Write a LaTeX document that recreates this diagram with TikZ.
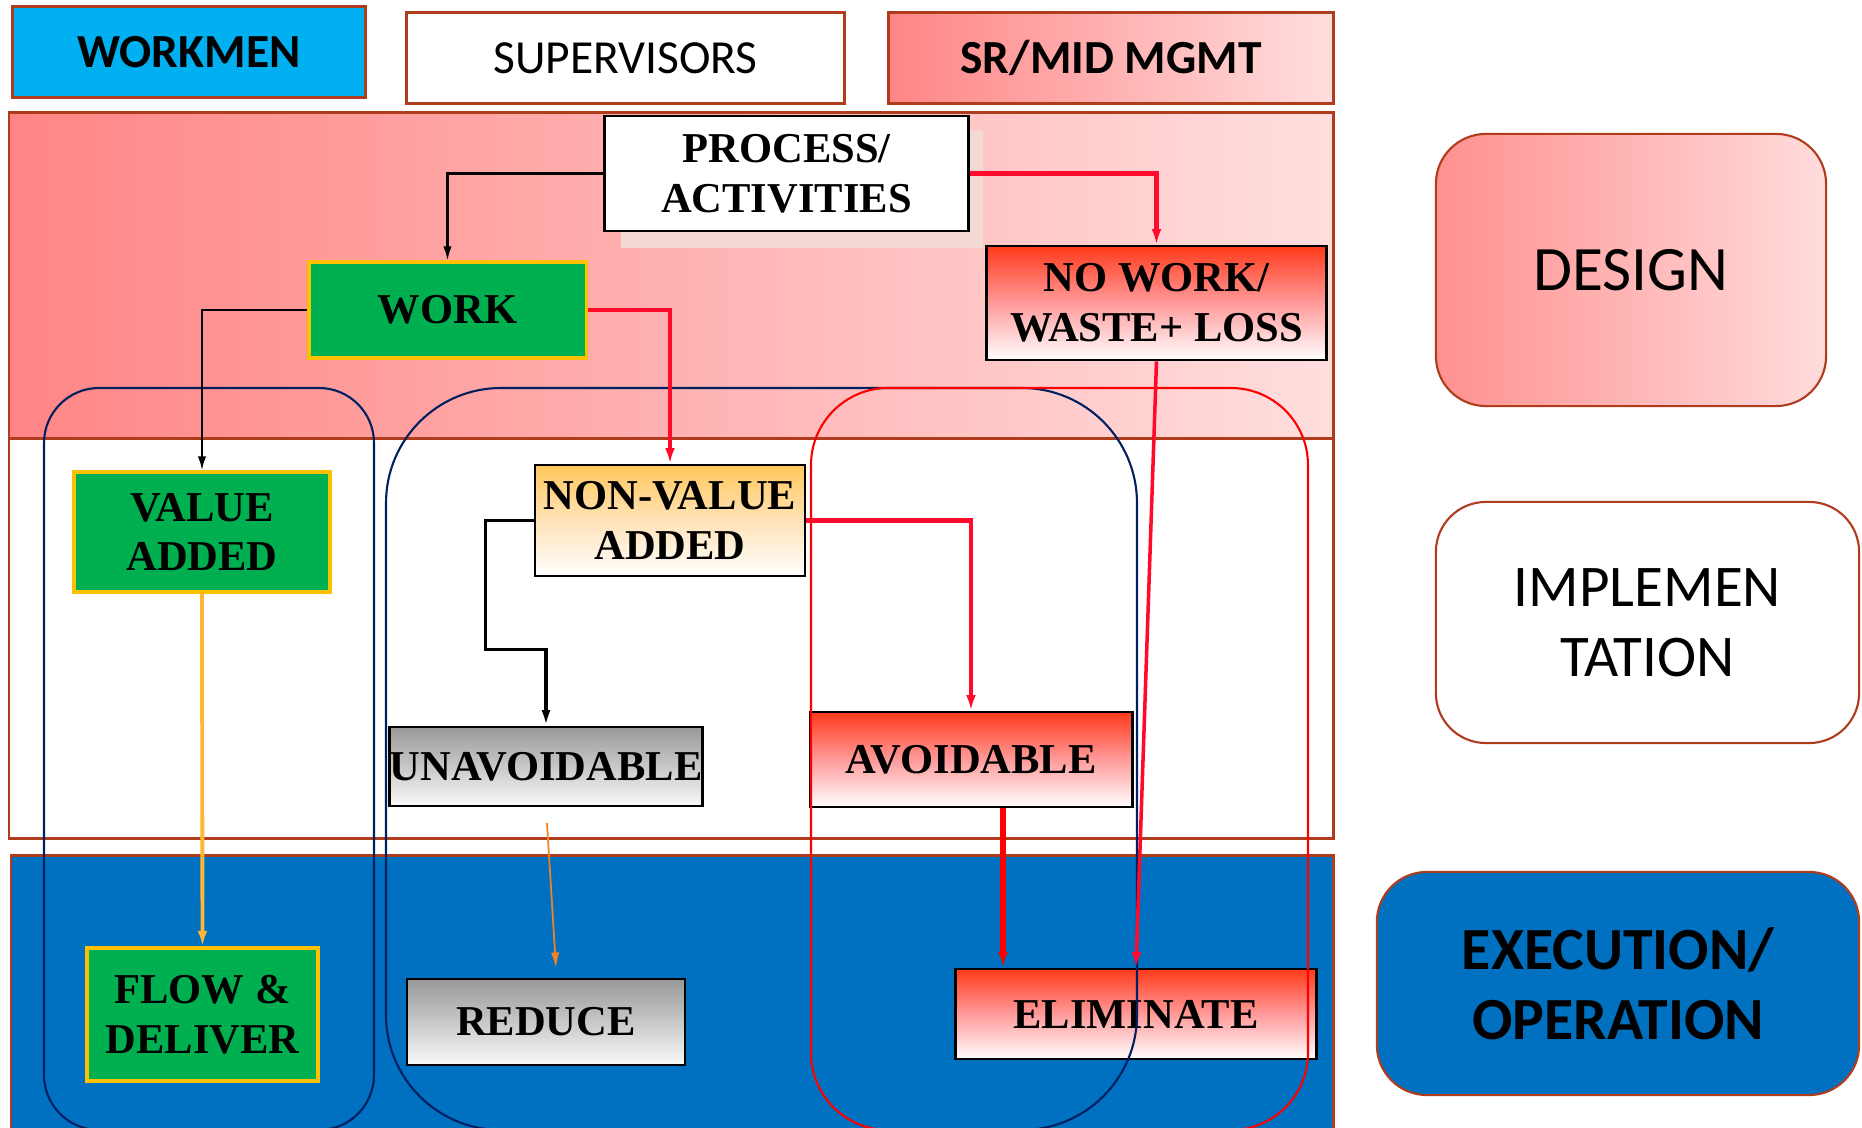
\documentclass[tikz,border=0pt]{standalone}
\usepackage{fontspec}
\setmainfont{Liberation Serif}
\newfontfamily\calib{Carlito}
\usetikzlibrary{arrows.meta,calc}
\definecolor{bandborder}{HTML}{B03C1E}
\definecolor{wcyan}{HTML}{00B0F0}
\definecolor{pinkL}{HTML}{FF8585}
\definecolor{pinkR}{HTML}{FFDEDE}
\definecolor{dpinkL}{HTML}{FF9090}
\definecolor{dpinkR}{HTML}{FFDCDC}
\definecolor{execblue}{HTML}{0070C0}
\definecolor{vgreen}{HTML}{00B050}
\definecolor{gold}{HTML}{FFC000}
\definecolor{navyloop}{HTML}{002060}
\definecolor{redloop}{HTML}{FF0000}
\definecolor{redarrow}{HTML}{FF0A2A}
\definecolor{flowarrow}{HTML}{FFB535}
\definecolor{thinorange}{HTML}{F58220}
\definecolor{redtop}{HTML}{FF3A1A}
\definecolor{redmid}{HTML}{FF9A9A}
\definecolor{graytop}{HTML}{999999}
\definecolor{graymid}{HTML}{C8C8C8}
\definecolor{graybot}{HTML}{FAFAFA}
\definecolor{nvtop}{HTML}{FFC85A}
\definecolor{nvmid}{HTML}{FFE2B8}
\definecolor{shadowpink}{HTML}{F3D9D4}
\tikzset{
  hdr/.style={draw=bandborder, line width=0.85pt, inner sep=0pt, align=center,
    font=\calib\fontsize{13.5}{16}\selectfont},
  sidebox/.style={draw=bandborder, line width=0.6pt, rounded corners=0.5cm, inner sep=0pt, align=center},
  box/.style={draw=black, line width=0.8pt, inner sep=0pt, align=center,
    font=\bfseries\fontsize{12.1}{14.2}\selectfont},
  greenbox/.style={box, draw=gold, fill=vgreen, line width=0.9pt},
  redgrad/.style={box, top color=redtop, bottom color=white, middle color=redmid},
  graygrad/.style={box, top color=graytop, bottom color=graybot, middle color=graymid},
  nvgrad/.style={box, top color=nvtop, bottom color=white, middle color=nvmid},
  loopline/.style={line width=0.6pt},
  blk/.style={draw=black, line width=0.6pt, -{Latex[length=4pt,width=2.4pt]}},
  blkthick/.style={draw=black, line width=1.1pt, -{Latex[length=4.4pt,width=2.6pt]}},
  redarr/.style={draw=redarrow, line width=1.4pt, -{Latex[length=4.4pt,width=2.8pt]}},
}
\begin{document}
\begin{tikzpicture}[x=0.01cm,y=-0.01cm]
\useasboundingbox (0,0) rectangle (1862,1128);
\begin{scope}
\clip (0,0) rectangle (1862,1128);
\fill[white] (0,0) rectangle (1862,1128);
% bands
\shade[left color=pinkL, right color=pinkR] (9,113) rectangle (1333,439);
\draw[bandborder, line width=0.85pt] (9,113) rectangle (1333,439);
\draw[bandborder, line width=0.85pt] (9,439) rectangle (1333,839);
\fill[execblue] (11,856) rectangle (1333,1140);
\draw[bandborder, line width=0.85pt] (11,1140) -- (11,856) -- (1333,856) -- (1333,1140);
% header boxes
\node[hdr, fill=wcyan, minimum width=3.52cm, minimum height=0.9cm] (workmen) at (189,52) {\bfseries WORKMEN};
\node[hdr, fill=white, minimum width=4.37cm, minimum height=0.9cm] (sup) at (625.5,58) {SUPERVISORS};
\node[hdr, left color=pinkL, right color=pinkR, minimum width=4.44cm, minimum height=0.9cm] (srmid) at (1111,58) {\bfseries SR/MID MGMT};
% right boxes
\node[sidebox, left color=dpinkL, right color=dpinkR, minimum width=3.9cm, minimum height=2.72cm,
  font=\calib\fontsize{18}{21}\selectfont] (design) at (1631,270) {DESIGN};
\node[sidebox, fill=white, minimum width=4.23cm, minimum height=2.41cm,
  font=\calib\fontsize{16.8}{20}\selectfont] (impl) at (1647.5,622.5) {IMPLEMEN\\TATION};
\node[sidebox, fill=execblue, minimum width=4.82cm, minimum height=2.23cm,
  font=\calib\bfseries\fontsize{17}{20}\selectfont] (exec) at (1618,983.5) {EXECUTION/\\OPERATION};
% shadow behind process box
\fill[shadowpink] (621,130) rectangle (983,248);
% nodes
\node[box, fill=white, minimum width=3.63cm, minimum height=1.15cm] (proc) at (786.5,173.5) {PROCESS/\\ACTIVITIES};
\node[greenbox, minimum width=2.77cm, minimum height=0.96cm] (work) at (447.5,310) {WORK};
\node[redgrad, minimum width=3.39cm, minimum height=1.14cm] (nowork) at (1156.5,303) {NO WORK/\\WASTE+ LOSS};
\node[greenbox, minimum width=2.56cm, minimum height=1.2cm] (va) at (202,532) {VALUE\\ADDED};
\node[nvgrad, minimum width=2.7cm, minimum height=1.11cm] (nva) at (670,520.5) {NON-VALUE\\ADDED};
\node[graygrad, minimum width=3.1cm, minimum height=0.79cm] (unav) at (546,766.5) {UNAVOIDABLE};
\node[redgrad, minimum width=3.22cm, minimum height=0.95cm] (av) at (971,759.5) {AVOIDABLE};
\node[greenbox, minimum width=2.31cm, minimum height=1.33cm] (flow) at (202.5,1014.5) {FLOW \&\\DELIVER};
\node[graygrad, minimum width=2.78cm, minimum height=0.86cm] (reduce) at (546,1022) {REDUCE};
\node[redgrad, minimum width=3.6cm, minimum height=0.9cm] (elim) at (1136,1014) {ELIMINATE};
% loops
\draw[loopline, navyloop, rounded corners=0.55cm] (44,388) rectangle (374,1130);
\draw[loopline, navyloop, rounded corners=1.15cm] (386,388) rectangle (1137,1130);
\draw[loopline, redloop, rounded corners=0.77cm] (811,388) rectangle (1308,1130);
% connectors
\draw[blk] (proc.west) -| (work.north);
\draw[redarr] (proc.east) -| (nowork.north);
\draw[blk] (work.west) -| (va.north);
\draw[redarr] (work.east) -| (nva.north);
\draw[blkthick] (nva.west) -- ++(-48,0) |- ($(unav.north)+(0,-76)$) -- (unav.north);
\draw[redarr] (nva.east) -| (av.north);
\path ($(av.south)+(32,0)$) coordinate (avs);
\draw[redarr, draw=red, line width=1.7pt] (avs) -- (avs |- elim.north);
\draw[redarr, line width=1.0pt] (nowork.south) -- (elim.north);
\draw[draw=flowarrow, line width=1.1pt, -{Latex[length=4.4pt,width=2.8pt]}] (va.south) -- (flow.north);
\coordinate (o1) at (547,823);
\coordinate (o2) at (556,968);
\draw[draw=thinorange, line width=0.5pt, -{Latex[length=4.4pt,width=2.4pt]}] (o1) -- (o2);
\end{scope}
\end{tikzpicture}
\end{document}
